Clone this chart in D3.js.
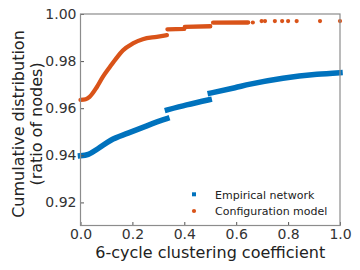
<!DOCTYPE html>
<html>
<head>
<style>
  body { margin: 0; background: #fff; }
  svg { display: block; font-family: "DejaVu Sans", sans-serif; }
  .tick text { fill: #333; }
</style>
</head>
<body>
<svg id="chart" width="360" height="270"></svg>
<script src="https://cdn.jsdelivr.net/npm/d3@7"></script>
<script>
// values; null breaks a run where the curve jumps
const empiricalX = [0, 0.03, 0.067, 0.117, 0.183, 0.248, 0.306, 0.333, null,
                    0.335, 0.409, 0.496, null,
                    0.5, 0.595, 0.654, 0.78, 0.911, 1.0];
const empiricalY = [0.9398, 0.9404, 0.9428, 0.9464, 0.9494, 0.9522, 0.9546, 0.9556, null,
                    0.9593, 0.9614, 0.9636, null,
                    0.9664, 0.9687, 0.9702, 0.9727, 0.9744, 0.9751];

const configX = [0, 0.02, 0.035, 0.062, 0.086, 0.113, 0.14, 0.163, 0.202, 0.24, 0.294, 0.333, null,
                 0.335, 0.40, null,
                 0.402, 0.50, null,
                 0.511, 0.646];
const configY = [0.9635, 0.9638, 0.9648, 0.9688, 0.9733, 0.9775, 0.9815, 0.9845, 0.9875, 0.9893, 0.9903, 0.991, null,
                 0.9935, 0.9937, null,
                 0.9945, 0.9948, null,
                 0.9963, 0.9964];
const configDotsX = [0.664, 0.698, 0.711, 0.749, 0.777, 0.80, 0.833, 0.923, 1.0];
const configDotsY = [0.9964, 0.997, 0.997, 0.997, 0.997, 0.997, 0.997, 0.997, 0.997];

const xTicks = [0, 0.2, 0.4, 0.6, 0.8, 1.0];
const yTicks = [0.92, 0.94, 0.96, 0.98, 1.00];
const seriesNames = ["Empirical network", "Configuration model"];

const blue = "#0072bd", orange = "#d95319";

let svg = d3.select("#chart");
let mLeft = 80.5, mRight = 340, mTop = 14, mBottom = 225.5;

let x = d3.scaleLinear().domain([0, 1]).range([mLeft, mRight]);
let y = d3.scaleLinear().domain([0.9102, 1.0]).range([mBottom, mTop]);

let line = d3.line()
    .defined(d => d[0] !== null)
    .curve(d3.curveMonotoneX)
    .x(d => x(d[0]))
    .y(d => y(d[1]));

let emp = empiricalX.map((v, i) => [v, empiricalY[i]]);
let conf = configX.map((v, i) => [v, configY[i]]);

svg.append("path").datum(emp)
    .attr("d", line)
    .attr("fill", "none").attr("stroke", blue)
    .attr("stroke-width", 5.5).attr("stroke-linecap", "square");

svg.append("path").datum(conf)
    .attr("d", line)
    .attr("fill", "none").attr("stroke", orange)
    .attr("stroke-width", 4.3).attr("stroke-linecap", "round");

svg.selectAll("circle.dot")
    .data(configDotsX.map((v, i) => [v, configDotsY[i]]))
    .enter().append("circle")
    .attr("class", "dot")
    .attr("cx", d => x(d[0])).attr("cy", d => y(d[1]))
    .attr("r", 2.1).attr("fill", orange);

// axes, ticks pointing inward
let xAxis = d3.axisBottom(x).tickValues(xTicks).tickFormat(d3.format(".1f"))
    .tickSizeInner(-3.5).tickSizeOuter(0).tickPadding(4);
let gx = svg.append("g").attr("transform", `translate(0,${mBottom})`).call(xAxis);
gx.select(".domain").remove();
gx.selectAll("text").attr("font-size", 14).attr("font-family", "DejaVu Sans");
gx.selectAll("line").attr("stroke", "#555");

let yAxis = d3.axisLeft(y).tickValues(yTicks).tickFormat(d3.format(".2f"))
    .tickSizeInner(-3.5).tickSizeOuter(0).tickPadding(4);
let gy = svg.append("g").attr("transform", `translate(${mLeft},0)`).call(yAxis);
gy.select(".domain").remove();
gy.selectAll("text").attr("font-size", 14).attr("font-family", "DejaVu Sans");
gy.selectAll("line").attr("stroke", "#555");

svg.append("rect")
    .attr("x", mLeft).attr("y", mTop)
    .attr("width", mRight - mLeft).attr("height", mBottom - mTop)
    .attr("fill", "none").attr("stroke", "#8c8c8c").attr("stroke-width", 1.2);

svg.append("text").text("6-cycle clustering coefficient")
    .attr("x", (mLeft + mRight) / 2).attr("y", 258)
    .attr("text-anchor", "middle").attr("font-size", 16).attr("fill", "#222");

let ylab = svg.append("g").attr("transform", "translate(0,124) rotate(-90)");
ylab.append("text").text("Cumulative distribution")
    .attr("x", 0).attr("y", 24).attr("text-anchor", "middle")
    .attr("font-size", 16).attr("fill", "#222");
ylab.append("text").text("(ratio of nodes)")
    .attr("x", 0).attr("y", 42).attr("text-anchor", "middle")
    .attr("font-size", 16).attr("fill", "#222");

// legend
let leg = svg.append("g");
leg.append("rect").attr("x", 192).attr("y", 192.3).attr("width", 4).attr("height", 4).attr("fill", blue);
leg.append("circle").attr("cx", 194).attr("cy", 211).attr("r", 2.1).attr("fill", orange);
leg.selectAll("text").data(seriesNames).enter().append("text")
    .text(d => d)
    .attr("x", 215).attr("y", (d, i) => 198.5 + i * 16.7)
    .attr("font-size", 11).attr("fill", "#222");
</script>
</body>
</html>
